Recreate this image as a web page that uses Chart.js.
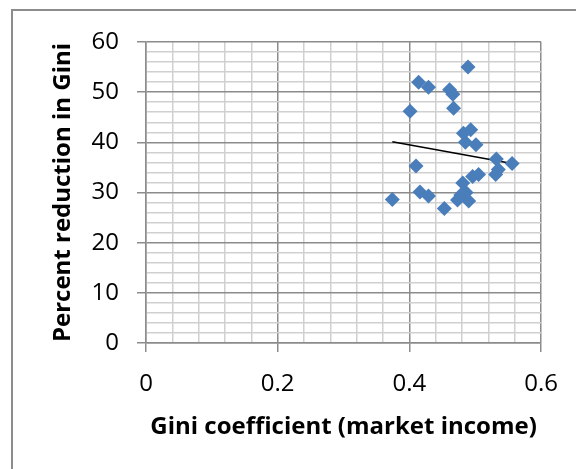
<!DOCTYPE html>
<html>
<head>
<meta charset="utf-8">
<script src="https://cdn.jsdelivr.net/npm/chart.js@4"></script>
<style>
  html, body { margin: 0; padding: 0; background: #fff; }
  #wrap { position: relative; width: 576px; height: 469px; }
  #frame {
    position: absolute; left: 11px; top: 9px; right: 0; bottom: 0;
    border-left: 2px solid #8c8c8c; border-top: 2px solid #8c8c8c;
    pointer-events: none;
  }
</style>
</head>
<body>
<div id="wrap">
  <canvas id="chart" width="576" height="469"></canvas>
  <div id="frame"></div>
</div>
<script>
// ===== DATA =====
let giniMarket = [0.489, 0.414, 0.429, 0.461, 0.466, 0.401, 0.467, 0.482, 0.493, 0.485,
                  0.501, 0.532, 0.535, 0.556, 0.531, 0.496, 0.505, 0.481, 0.478, 0.486,
                  0.490, 0.473, 0.453, 0.410, 0.374, 0.416, 0.429];
let reduction  = [55.0, 52.0, 51.0, 50.5, 49.6, 46.2, 46.8, 41.8, 42.5, 40.0,
                  39.5, 36.7, 34.6, 35.8, 33.6, 33.2, 33.6, 31.9, 29.5, 30.0,
                  28.3, 28.5, 26.8, 35.3, 28.6, 30.1, 29.3];
let trendX = [0.374, 0.556];
let trendY = [40.1, 35.8];
let xTicks = [0, 0.2, 0.4, 0.6];
let yTicks = [0, 10, 20, 30, 40, 50, 60];

const FONT = "'Open Sans', Lato, sans-serif";

function isMajor(v, step) {
  let r = v / step;
  return Math.abs(r - Math.round(r)) < 1e-6;
}

let points = giniMarket.map((x, i) => ({ x: x, y: reduction[i] }));
let trend = trendX.map((x, i) => ({ x: x, y: trendY[i] }));

new Chart(document.getElementById("chart"), {
  type: 'scatter',
  data: {
    datasets: [
      {
        data: points,
        pointStyle: 'rectRot',
        pointRadius: 7.5,
        pointHoverRadius: 7.5,
        backgroundColor: '#4a7ebb',
        borderColor: '#4a7ebb',
        borderWidth: 0
      },
      {
        type: 'line',
        data: trend,
        borderColor: '#000',
        borderWidth: 1.5,
        pointRadius: 0,
        fill: false
      }
    ]
  },
  options: {
    responsive: false,
    animation: false,
    layout: { padding: { left: 0, top: 42, right: 34, bottom: 0 } },
    plugins: { legend: { display: false }, tooltip: { enabled: false } },
    scales: {
      x: {
        type: 'linear',
        min: xTicks[0],
        max: xTicks[xTicks.length - 1],
        afterFit: s => { s.height = 126; },
        border: { color: '#8c8c8c', width: 1.5 },
        grid: {
          color: c => isMajor(c.tick.value, 0.2) ? '#8c8c8c' : '#d0d0d0',
          tickColor: c => isMajor(c.tick.value, 0.2) ? '#8c8c8c' : 'rgba(0,0,0,0)',
          lineWidth: 1.5,
          tickLength: 9
        },
        ticks: {
          stepSize: 0.04,
          autoSkip: false,
          maxRotation: 0,
          padding: 18,
          color: '#000',
          font: { family: FONT, size: 24 },
          callback: v => isMajor(v, 0.2) ? String(Math.round(v * 10) / 10) : ''
        },
        title: {
          display: true,
          text: 'Gini coefficient (market income)',
          color: '#000',
          font: { family: FONT, size: 24, weight: 'bold' },
          padding: { top: 0, bottom: 27 }
        }
      },
      y: {
        type: 'linear',
        min: yTicks[0],
        max: yTicks[yTicks.length - 1],
        afterFit: s => { s.width = 146; },
        border: { color: '#8c8c8c', width: 1.5 },
        grid: {
          color: c => isMajor(c.tick.value, 10) ? '#8c8c8c' : '#d0d0d0',
          tickColor: c => isMajor(c.tick.value, 10) ? '#8c8c8c' : 'rgba(0,0,0,0)',
          lineWidth: 1.5,
          tickLength: 9
        },
        ticks: {
          stepSize: 2,
          autoSkip: false,
          padding: 18,
          color: '#000',
          font: { family: FONT, size: 24 },
          callback: v => isMajor(v, 10) ? String(v) : ''
        },
        title: {
          display: true,
          text: 'Percent reduction in Gini',
          color: '#000',
          font: { family: FONT, size: 24, weight: 'bold' },
          padding: { top: 49, bottom: 0 }
        }
      }
    }
  }
});
</script>
</body>
</html>
